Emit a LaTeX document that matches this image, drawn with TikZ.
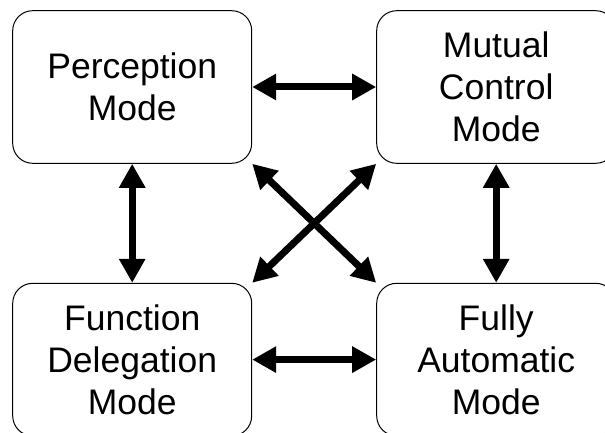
\documentclass[tikz,border=0pt]{standalone}
\usepackage{fontspec}
\setmainfont{Liberation Sans}
\usetikzlibrary{arrows.meta}
\begin{document}
\begin{tikzpicture}[x=1pt,y=1pt,
  modebox/.style={draw, line width=1pt, rounded corners=20pt,
    minimum width=239pt, minimum height=152.6pt, align=center,
    font=\fontsize{35.5pt}{42pt}\selectfont, inner sep=0pt},
  link/.style={line width=7pt, {Triangle[length=24pt,width=25pt]}-{Triangle[length=24pt,width=25pt]}}]
\useasboundingbox (0,0) rectangle (605,432);
\clip (0,0) rectangle (605,432);
\fill[white] (0,0) rectangle (605,432);
\node[modebox] (pm) at (132.2,345) {Perception\\Mode};
\node[modebox] (mc) at (496.2,345) {Mutual\\Control\\Mode};
\node[modebox] (fd) at (132.2,72.4) {Function\\Delegation\\Mode};
\node[modebox] (fa) at (496.2,72.4) {Fully\\Automatic\\Mode};
\draw[link] (pm.east) -- (mc.west);
\draw[link] (fd.east) -- (fa.west);
\draw[link] (pm.south) -- (fd.north);
\draw[link] (mc.south) -- (fa.north);
\draw[link] (pm.south east) -- (fa.north west);
\draw[link] (mc.south west) -- (fd.north east);
\end{tikzpicture}
\end{document}
